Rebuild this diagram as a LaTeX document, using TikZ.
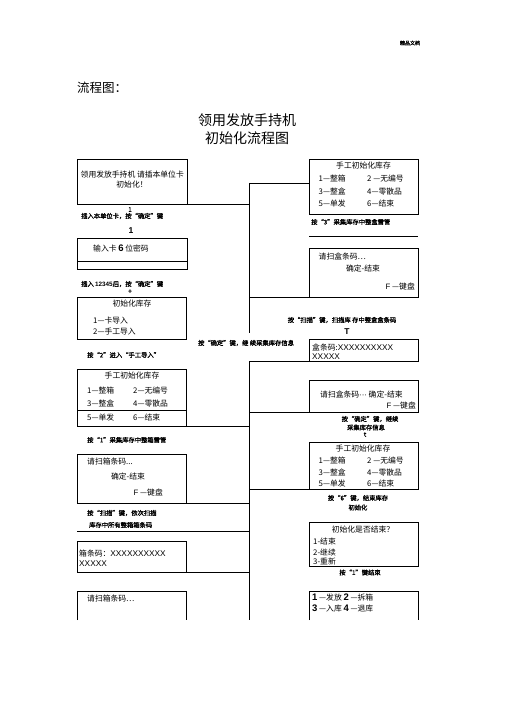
\documentclass[tikz,border=0pt]{standalone}
\usepackage{fontspec}
\setmainfont{Noto Sans CJK SC}
\newfontfamily\cjkb[FakeBold=1.5]{Noto Sans CJK SC}
\newfontfamily\lsans{Liberation Sans}
\begin{document}
\begin{tikzpicture}[x=1pt,y=-1pt,
  box/.style={draw,line width=0.9pt,inner sep=0,outer sep=0,anchor=north west},
  ln/.style={line width=0.9pt},
  bt/.style={inner sep=0,anchor=west,font=\fontsize{7.8}{9}\selectfont},
  bc/.style={inner sep=0,anchor=center,font=\fontsize{7.8}{9}\selectfont},
  be/.style={inner sep=0,anchor=east,font=\fontsize{7.8}{9}\selectfont},
  nt/.style={inner sep=0,anchor=west,font=\cjkb\fontsize{6.3}{7}\selectfont},
  nc/.style={inner sep=0,anchor=center,font=\cjkb\fontsize{6.3}{7}\selectfont},
  bn/.style={font=\lsans\bfseries\fontsize{8.5}{9}\selectfont},
  xs/.style={font=\lsans\fontsize{8.3}{9}\selectfont}]
\useasboundingbox (0,0) rectangle (505,714);
\fill[white] (0,0) rectangle (505,714);

% header
\node[inner sep=0,font=\cjkb\fontsize{5}{6}\selectfont] (hdr) at (410,43) {精品文档};
\node[inner sep=0,anchor=west,font=\fontsize{12.5}{14}\selectfont] (lct) at (77,88) {流程图：};
\node[inner sep=0,font=\fontsize{14}{16}\selectfont] (ttl1) at (247,120) {领用发放手持机};
\node[inner sep=0,font=\fontsize{14}{16}\selectfont] (ttl2) at (247,138) {初始化流程图};

% spine coordinates
\coordinate (spA) at (249,183);
\coordinate (spAe) at (249,333);
\coordinate (spB) at (249,361);
\coordinate (spBe) at (249,620);
\draw[ln] (spA) -- (spAe);
\draw[ln] (spB) -- (spBe);

% left boxes
\node[box,minimum width=110pt,minimum height=45pt] (bA) at (77,159) {};
\node[box,minimum width=110pt,minimum height=31pt] (bB) at (77,238) {};
\node[box,minimum width=109pt,minimum height=42pt] (bC) at (77,297) {};
\node[box,minimum width=109pt,minimum height=57pt] (bD) at (77,369) {};
\node[box,minimum width=109pt,minimum height=49pt] (bE) at (77,454) {};
\node[box,minimum width=109pt,minimum height=31pt] (bF) at (77,541) {};
\coordinate (gBL) at (77,620);
\coordinate (gTL) at (77,591);
\coordinate (gTR) at (186,591);
\coordinate (gBR) at (186,620);
\draw[ln] (gBL) -- (gTL) -- (gTR) -- (gBR);
\draw[ln] (77,261) -- (187,261);
\draw[ln] (77,410) -- (186,410);

% right boxes
\node[box,minimum width=109pt,minimum height=55pt] (r1) at (309,159) {};
\node[box,minimum width=109pt,minimum height=49pt] (r2) at (309,248) {};
\node[box,minimum width=109pt,minimum height=22pt] (r3) at (309,339) {};
\node[box,minimum width=109pt,minimum height=32pt] (r4) at (309,380) {};
\node[box,minimum width=109pt,minimum height=47pt] (r5) at (309,442) {};
\node[box,minimum width=109pt,minimum height=44pt] (r6) at (309,522) {};
\coordinate (hBL) at (309,620);
\coordinate (hTL) at (309,591);
\coordinate (hTR) at (418,591);
\coordinate (hBR) at (418,620);
\draw[ln] (hBL) -- (hTL) -- (hTR) -- (hBR);
\coordinate (l3a) at (309,236);
\coordinate (l3b) at (418,236);
\draw[ln] (l3a) -- (l3b);

% connectors to spine
\draw[ln] (bA.south east) -- (bA.south east -| spA);
\draw[ln] (spA) -- (r1.west |- spA);
\draw[ln] (r2.south west) -- (r2.south west -| spA);
\draw[ln] (r3.south west) -- (spB);
\draw[ln] (r4.south west) -- (r4.south west -| spA);
\draw[ln] (bD.south east) -- (bD.south east -| spA);
\draw[ln] (r5.south west) -- (r5.south west -| spA);
\draw[ln] (bE.south east) -- (bE.south east -| spA);
\coordinate (lnL) at (77,531);
\draw[ln] (lnL) -- (lnL -| spA);
\draw[ln] (bF.south east) -- (bF.south east -| spA);

% left texts
\node[bt] (tA1) at (80.5,175) {领用发放手持机 请插本单位卡};
\node[bc] (tA2) at (132,185) {初始化！};
\node[nc] (n1a) at (130,209.5) {1};
\node[nt] (n1) at (81,216) {插入本单位卡，按“确定”键};
\node[inner sep=0,bn] (n1b) at (131,231) {1};
\node[bt] (tB) at (93,248.5) {输入卡 {\lsans\bfseries\fontsize{9.5}{10}\selectfont 6} 位密码};
\node[nt] (n2) at (81,284) {插入 {\lsans\bfseries 12345}后，按“确定”键};
\node[nc] (n2b) at (130,291.5) {+};
\node[bc] (tC0) at (132,303.5) {初始化库存};
\node[bt] (tC1) at (93,321) {1—卡导入};
\node[bt] (tC2) at (93,332) {2—手工导入};
\node[nt] (n3) at (87,355) {按“2”进入“手工导入”};
\node[bc] (tD0) at (132,376) {手工初始化库存};
\node[bt] (tD1) at (87,390.5) {1—整箱};
\node[bt] (tD2) at (133,390.5) {2—无编号};
\node[bt] (tD3) at (87,403.5) {3—整盒};
\node[bt] (tD4) at (133,403.5) {4—零散品};
\node[bt] (tD5) at (87,417.5) {5—单发};
\node[bt] (tD6) at (133,417.5) {6—结束};
\node[nt] (n4) at (87,440) {按“1”采集库存中整箱雷管};
\node[bt] (tE1) at (87,462) {请扫箱条码...};
\node[bc] (tE2) at (128,477) {确定-结束};
\node[be] (tE3) at (163,493) {{\lsans F} —键盘};
\node[nt] (n5a) at (87,513) {按“扫描”键，依次扫描};
\node[nt] (n5b) at (89,525) {库存中所有整箱箱条码};
\node[bt] (tF1) at (79,554) {箱条码：{\lsans\fontsize{8.3}{9}\selectfont XXXXXXXXXX}};
\node[bt,xs] (tF2) at (79,564) {XXXXX};
\node[bt] (tG1) at (87,598.5) {请扫箱条码…};

% right texts
\node[bc] (t10) at (363.5,165.5) {手工初始化库存};
\node[bt] (t11) at (318.5,178.5) {1—整箱};
\node[bt] (t12) at (367,178.5) {2 —无编号};
\node[bt] (t13) at (318.5,191.5) {3—整盒};
\node[bt] (t14) at (367,191.5) {4—零散品};
\node[bt] (t15) at (318.5,204) {5—单发};
\node[bt] (t16) at (367,204) {6—结束};
\node[nt] (m1) at (311,222) {按“3”采集库存中整盒雷管};
\node[bt] (t21) at (318.5,257) {请扫盒条码…};
\node[bc] (t22) at (363,268.5) {确定-结束};
\node[be] (t23) at (415,287) {{\lsans F} —键盘};
\node[nc] (m2) at (342,320) {按“扫描”键，扫描库 存中整盒盒条码};
\node[inner sep=0,bn] (m2b) at (347,332) {T};
\node[bt] (t31) at (312,347) {盒条码:{\lsans\fontsize{8.3}{9}\selectfont XXXXXXXXXX}};
\node[bt,xs] (t32) at (312,356.5) {XXXXX};
\node[nc] (m3) at (246,343) {按“确定”键，继 续采集库存信息};
\node[bt] (t41) at (320,395) {请扫盒条码{\lsans ···} 确定-结束};
\node[be] (t42) at (416,406) {{\lsans F} —键盘};
\node[nc] (m4a) at (370,419) {按“确定”键，继续};
\node[nc] (m4b) at (366,427.5) {采集库存信息};
\node[nc] (m4c) at (365,434.5) {t};
\node[bc] (t50) at (363,449) {手工初始化库存};
\node[bt] (t51) at (318.5,461) {1—整箱};
\node[bt] (t52) at (367,461) {2 —无编号};
\node[bt] (t53) at (318.5,472.5) {3—整盒};
\node[bt] (t54) at (367,472.5) {4—零散品};
\node[bt] (t55) at (318.5,483.5) {5—单发};
\node[bt] (t56) at (367,483.5) {6—结束};
\node[nc] (m5a) at (358,498) {按“6”键，结束库存};
\node[nc] (m5b) at (358,507.5) {初始化};
\node[bc] (t60) at (363,530) {初始化是否结束？};
\node[bt] (t61) at (313,541.5) {1-结束};
\node[bt] (t62) at (313,552.5) {2-继续};
\node[bt] (t63) at (313,561) {3-重新};
\node[nc] (m6) at (360,572.5) {按“1”键结束};
\node[bt] (t71) at (312,597.5) {{\lsans\bfseries\fontsize{9.5}{10}\selectfont 1} —发放 {\lsans\bfseries\fontsize{9.5}{10}\selectfont 2} —拆箱};
\node[bt] (t72) at (312,608.5) {{\lsans\bfseries\fontsize{9.5}{10}\selectfont 3} —入库 {\lsans\bfseries\fontsize{9.5}{10}\selectfont 4} —退库};
\end{tikzpicture}
\end{document}
